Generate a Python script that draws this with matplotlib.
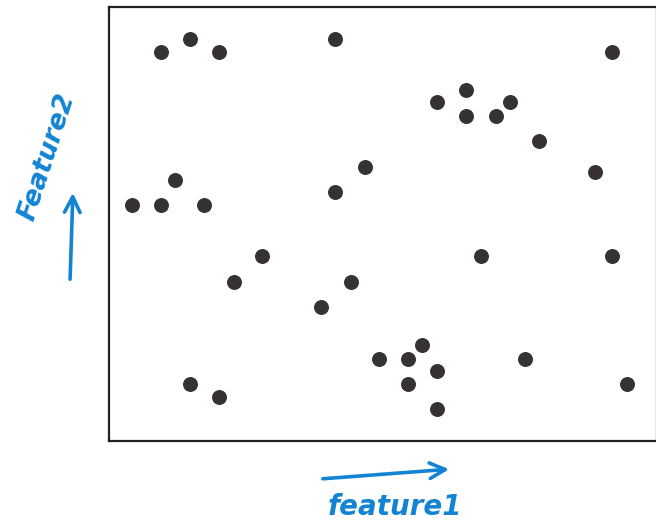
import matplotlib.pyplot as plt

# values (axis runs 0-11 by 0-9)
feature1 = [1.05, 1.62, 2.21, 4.54, 10.10,
            7.17, 6.59, 8.04, 7.17, 7.76, 8.64,
            5.14, 9.75, 1.33, 4.54, 0.46, 1.05, 1.91,
            3.08, 7.46, 10.10, 2.50, 4.85, 4.26,
            6.29, 5.42, 6.01, 8.35, 6.59, 1.62, 6.01, 10.39, 2.21, 6.59]
feature2 = [8.07, 8.33, 8.07, 8.33, 8.07,
            7.28, 7.02, 7.02, 6.75, 6.75, 6.22,
            5.69, 5.57, 5.42, 5.16, 4.90, 4.90, 4.90,
            3.84, 3.84, 3.84, 3.30, 3.30, 2.78,
            1.99, 1.71, 1.71, 1.71, 1.45, 1.18, 1.18, 1.18, 0.92, 0.66]

blue = '#1384d4'

fig = plt.figure(figsize=(6.56, 5.25), dpi=100)
ax = fig.add_axes([109/656, 84/525, 548/656, 434/525])

ax.scatter(feature1, feature2, s=95, color='#363232', zorder=3)
ax.set_xlim(0, 11)
ax.set_ylim(0, 9)
ax.set_xticks([])
ax.set_yticks([])
for sp in ax.spines.values():
    sp.set_linewidth(1.6)
    sp.set_color('#222222')

# hand drawn style axis labels
fig.text(395/656, 18/525, 'feature1', color=blue, fontsize=20,
         ha='center', va='center', style='italic', fontweight='bold')
ax.annotate('', xy=(452, 56), xytext=(320, 46), xycoords='figure pixels',
            textcoords='figure pixels',
            arrowprops=dict(arrowstyle='->', color=blue, lw=2.6,
                            mutation_scale=28))

fig.text(47/656, 368/525, 'Feature2', color=blue, fontsize=19,
         ha='center', va='center', rotation=72, style='italic',
         fontweight='bold')
ax.annotate('', xy=(73, 335), xytext=(70, 243), xycoords='figure pixels',
            textcoords='figure pixels',
            arrowprops=dict(arrowstyle='->', color=blue, lw=2.6,
                            mutation_scale=28))

fig.savefig('out.png', dpi=100)
